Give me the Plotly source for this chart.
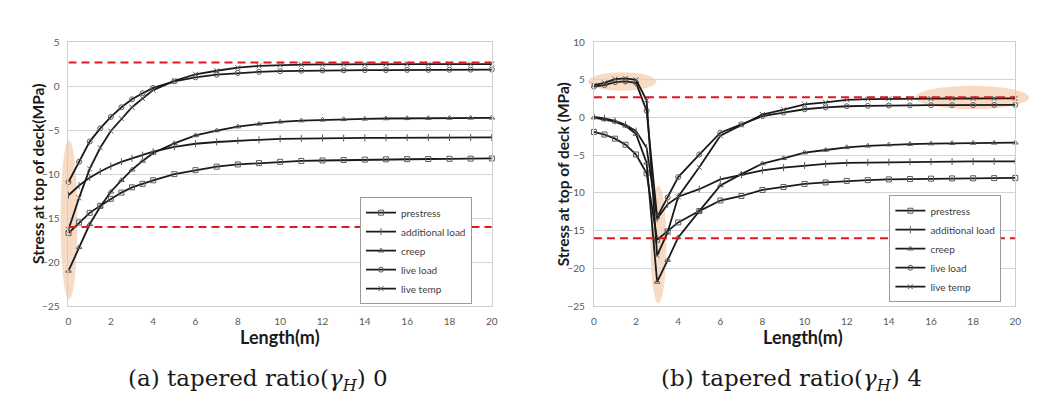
import plotly.graph_objects as go

# ---------------- data ----------------
length_m = [0, 0.5, 1, 1.5, 2, 2.5, 3, 3.5, 4, 5, 6, 7, 8, 9, 10,
            11, 12, 13, 14, 15, 16, 17, 18, 19, 20]

series_names = ["prestress", "additional load", "creep", "live load", "live temp"]

# (a) tapered ratio 0
a_prestress = [-16.7, -15.5, -14.4, -13.6, -12.8, -12.1, -11.5, -11.1, -10.7, -10.0, -9.55,
               -9.15, -8.9, -8.75, -8.6, -8.5, -8.45, -8.4, -8.35, -8.32, -8.3, -8.28, -8.26, -8.24, -8.22]
a_additional = [-12.4, -11.3, -10.4, -9.7, -9.1, -8.6, -8.2, -7.85, -7.45, -6.9, -6.55,
                -6.35, -6.2, -6.1, -6.0, -5.95, -5.92, -5.9, -5.88, -5.87, -5.86, -5.85, -5.84, -5.83, -5.82]
a_creep = [-21.0, -18.3, -15.7, -13.7, -12.0, -10.7, -9.5, -8.5, -7.6, -6.5, -5.6,
           -5.05, -4.6, -4.3, -4.05, -3.92, -3.83, -3.77, -3.72, -3.68, -3.66, -3.64, -3.62, -3.61, -3.6]
a_liveload = [-10.9, -8.6, -6.3, -4.8, -3.5, -2.4, -1.5, -0.8, -0.2, 0.55, 1.0,
              1.3, 1.5, 1.62, 1.7, 1.75, 1.78, 1.8, 1.82, 1.83, 1.84, 1.85, 1.86, 1.87, 1.88]
a_livetemp = [-16.3, -12.7, -9.4, -7.0, -5.1, -3.7, -2.4, -1.4, -0.45, 0.6, 1.35,
              1.75, 2.1, 2.3, 2.4, 2.45, 2.48, 2.5, 2.5, 2.5, 2.5, 2.5, 2.5, 2.5, 2.5]

# (b) tapered ratio 4
b_prestress = [-1.9, -2.25, -2.8, -3.6, -4.9, -7.4, -16.2, -15.1, -13.9, -12.4, -11.0,
               -10.4, -9.6, -9.2, -8.8, -8.6, -8.4, -8.3, -8.2, -8.15, -8.1, -8.07, -8.05, -8.03, -8.0]
b_additional = [0.1, -0.1, -0.45, -0.95, -1.8, -4.0, -13.4, -11.5, -10.5, -9.5, -8.2,
                -7.6, -7.0, -6.65, -6.35, -6.15, -6.0, -5.95, -5.9, -5.87, -5.85, -5.83, -5.82, -5.81, -5.8]
b_creep = [0.0, -0.25, -0.55, -1.1, -2.2, -6.0, -21.8, -18.9, -15.9, -12.4, -9.0,
           -7.5, -6.1, -5.4, -4.65, -4.3, -3.95, -3.75, -3.6, -3.52, -3.45, -3.4, -3.37, -3.35, -3.33]
b_liveload = [4.1, 4.3, 4.7, 4.8, 4.6, 0.9, -13.2, -10.6, -7.9, -4.9, -2.0,
              -0.9, 0.2, 0.65, 1.1, 1.35, 1.5, 1.55, 1.6, 1.62, 1.64, 1.65, 1.66, 1.67, 1.68]
b_livetemp = [4.3, 4.6, 5.1, 5.2, 5.0, 2.3, -18.3, -15.2, -10.5, -6.6, -2.4,
              -1.0, 0.4, 1.05, 1.75, 2.0, 2.35, 2.45, 2.5, 2.5, 2.52, 2.53, 2.54, 2.55, 2.55]

limit_tension = 2.7
limit_compression = -16.0

x_ticks = [0, 2, 4, 6, 8, 10, 12, 14, 16, 18, 20]
a_y_ticks = [5, 0, -5, -10, -15, -20, -25]
b_y_ticks = [10, 5, 0, -5, -10, -15, -20, -25]

captions = ["(a) tapered ratio(<i>γ</i><sub><i>H</i></sub>) 0",
            "(b) tapered ratio(<i>γ</i><sub><i>H</i></sub>) 4"]
y_title_a = "Stress at top of deck(MPa)"
y_title_b = "Stress at top of deck (MPa)"
x_title = "Length(m)"

# ---------------- styles ----------------
symbols = ["square-open", "line-ns-open", "triangle-up-open", "circle-open", "x-thin-open"]
line_col = "#1a1a1a"
marker_col = "#5a5a5a"
W, H = 1043, 406

def px(xp):
    return xp / W

def py(yp):
    return 1 - yp / H

fig = go.Figure()

a_data = [a_prestress, a_additional, a_creep, a_liveload, a_livetemp]
b_data = [b_prestress, b_additional, b_creep, b_liveload, b_livetemp]

for name, ys, sym in zip(series_names, a_data, symbols):
    fig.add_trace(go.Scatter(
        x=length_m, y=ys, name=name, mode="lines+markers",
        line=dict(color=line_col, width=1.8),
        marker=dict(symbol=sym, size=5, color=marker_col, line=dict(width=1, color=marker_col)),
        xaxis="x", yaxis="y", legend="legend", cliponaxis=False))

for name, ys, sym in zip(series_names, b_data, symbols):
    fig.add_trace(go.Scatter(
        x=length_m, y=ys, name=name, mode="lines+markers",
        line=dict(color=line_col, width=1.8),
        marker=dict(symbol=sym, size=5, color=marker_col, line=dict(width=1, color=marker_col)),
        xaxis="x2", yaxis="y2", legend="legend2", cliponaxis=False))

# red dashed limit lines
for xr, yr in (("x", "y"), ("x2", "y2")):
    for lim in (limit_tension, limit_compression):
        fig.add_shape(type="line", xref=xr, yref=yr, x0=0, x1=20, y0=lim, y1=lim,
                      line=dict(color="#e0191f", width=2, dash="8px,5px"), layer="above")

# highlight ellipses (peach)
peach = "rgba(242,190,150,0.55)"
for (x0, x1, y0, y1) in [(50, 67, 130, 294), (582, 651, 60, 79), (912, 1027, 74, 98), (645, 661, 177, 298)]:
    fig.add_shape(type="circle", xref="paper", yref="paper",
                  x0=px(x0), x1=px(x1), y0=py(y1), y1=py(y0),
                  fillcolor=peach, line=dict(width=0), layer="below")

tick_font = dict(family="Lato, Open Sans, sans-serif", size=10, color="#595959")
axis_common = dict(zeroline=False, showline=True, linecolor="#cfcfcf", linewidth=1, mirror=True,
                   ticks="", tickfont=tick_font)

yd = [py(301), py(29)]
fig.update_layout(
    width=W, height=H, margin=dict(l=0, r=0, t=0, b=0),
    paper_bgcolor="white", plot_bgcolor="rgba(0,0,0,0)",
    showlegend=True,
    xaxis=dict(domain=[px(58), px(485)], range=[0, 20], tickvals=x_ticks, anchor="y",
               showgrid=False, ticklabelstandoff=6, **axis_common),
    yaxis=dict(domain=yd, range=[-25, 5], tickvals=a_y_ticks, anchor="x",
               showgrid=True, gridcolor="#d4d4d4", ticklabelstandoff=6, **axis_common),
    xaxis2=dict(domain=[px(588), px(1013)], range=[0, 20], tickvals=x_ticks, anchor="y2",
                showgrid=False, ticklabelstandoff=6, **axis_common),
    yaxis2=dict(domain=yd, range=[-25, 10], tickvals=b_y_ticks, anchor="x2",
                showgrid=True, gridcolor="#d4d4d4", ticklabelstandoff=6, **axis_common),
    legend=dict(x=px(465), y=py(299), xanchor="right", yanchor="bottom",
                bgcolor="white", bordercolor="#9a9a9a", borderwidth=1,
                font=dict(family="Lato, sans-serif", size=10, color="#404040"),
                itemwidth=30, tracegroupgap=0),
    legend2=dict(x=px(999), y=py(297), xanchor="right", yanchor="bottom",
                 bgcolor="white", bordercolor="#9a9a9a", borderwidth=1,
                 font=dict(family="Lato, sans-serif", size=10, color="#404040"),
                 itemwidth=30, tracegroupgap=0),
)

title_font = dict(family="Lato, Open Sans, sans-serif", size=15.5, color="#1a1a1a")
for txt, xpos in ((y_title_a, 27), (y_title_b, 557)):
    fig.add_annotation(text="<b>" + txt + "</b>", xref="paper", yref="paper",
                       x=px(xpos), y=py(165), xanchor="center", yanchor="middle",
                       textangle=-90, showarrow=False, font=title_font)
xt_font = dict(family="Lato, Open Sans, sans-serif", size=18, color="#1a1a1a")
for xpos in (271, 799):
    fig.add_annotation(text="<b>" + x_title + "</b>", xref="paper", yref="paper",
                       x=px(xpos), y=py(333), xanchor="center", yanchor="middle",
                       showarrow=False, font=xt_font)

cap_font = dict(family="DejaVu Serif, Liberation Serif, serif", size=23, color="#1a1a1a")
for txt, xpos in ((captions[0], 249), (captions[1], 787)):
    fig.add_annotation(text=txt, xref="paper", yref="paper",
                       x=px(xpos), y=py(377), xanchor="center", yanchor="middle",
                       showarrow=False, font=cap_font)

fig.write_html("out.html")
